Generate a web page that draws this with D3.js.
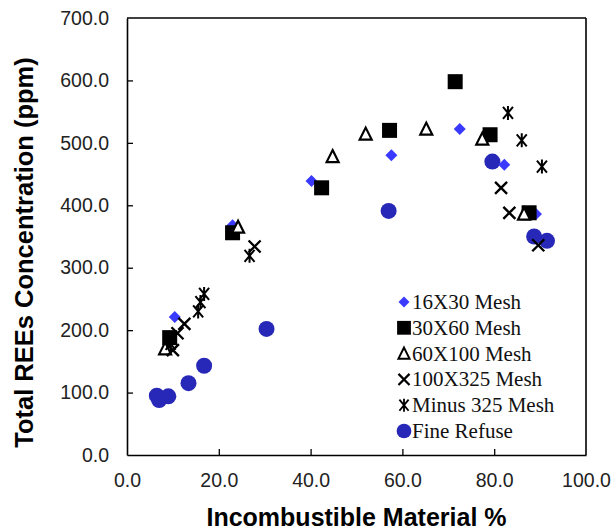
<!DOCTYPE html>
<html>
<head>
<meta charset="utf-8">
<script src="https://cdn.jsdelivr.net/npm/d3@7"></script>
<style>
  body { margin: 0; background: #fff; }
</style>
</head>
<body>
<div id="chart"></div>
<script>
// data: [incombustible %, REEs ppm]
const mesh16x30 = [[10.4, 221], [23.0, 368], [40.2, 439], [57.6, 480], [72.5, 522], [82.2, 465], [89.1, 386]];
const mesh30x60 = [[9.3, 188], [23.0, 356], [42.4, 428], [57.2, 520], [71.5, 598], [79.1, 513], [87.6, 388]];
const mesh60x100 = [[8.3, 170], [24.2, 365], [44.8, 478], [52.0, 514], [65.2, 522], [77.4, 506], [86.5, 386]];
const mesh100x325 = [[10.0, 168], [11.0, 195], [12.5, 210], [27.8, 334], [81.5, 428], [83.3, 388], [89.6, 336]];
const minus325 = [[9.5, 178], [15.5, 230], [16.0, 245], [16.8, 258], [26.7, 319], [83.0, 548], [86.0, 504], [90.4, 462]];
const fineRefuse = [[6.5, 95], [7.0, 88], [9.0, 94], [13.4, 115], [16.8, 143], [30.4, 202], [57.0, 391], [79.6, 470], [88.7, 350], [91.5, 343]];

const seriesNames = ["16X30 Mesh", "30X60 Mesh", "60X100 Mesh", "100X325 Mesh", "Minus 325 Mesh", "Fine Refuse"];
const xTicks = [0, 20, 40, 60, 80, 100];
const yTicks = [0, 100, 200, 300, 400, 500, 600, 700];

const W = 615, H = 531;
const margin = {top: 18, right: 29, bottom: 76, left: 127},
      width  = W - margin.left - margin.right,
      height = H - margin.top - margin.bottom;

const svg = d3.select("#chart")
  .append("svg")
    .attr("width", W)
    .attr("height", H);

const g = svg.append("g")
    .attr("transform", `translate(${margin.left},${margin.top})`);

const x = d3.scaleLinear().domain([0, 100]).range([0, width]);
const y = d3.scaleLinear().domain([0, 700]).range([height, 0]);

// axes, ticks inside
const xAxis = g.append("g")
  .attr("transform", `translate(0,${height})`)
  .call(d3.axisBottom(x).tickValues(xTicks).tickSizeInner(-6).tickSizeOuter(0).tickPadding(18).tickFormat(d3.format(".1f")));
const yAxis = g.append("g")
  .call(d3.axisLeft(y).tickValues(yTicks).tickSizeInner(-6).tickSizeOuter(0).tickPadding(18).tickFormat(d3.format(".1f")));

[xAxis, yAxis].forEach(a => {
  a.select(".domain").attr("stroke", "#000").attr("stroke-width", 1.6);
  a.selectAll(".tick line").attr("stroke", "#000").attr("stroke-width", 1.3);
  a.selectAll(".tick text")
    .style("font-family", "Liberation Sans, Arial, sans-serif")
    .style("font-size", "19.5px")
    .attr("fill", "#222");
});
// no tick marks on the frame corners
xAxis.selectAll(".tick").filter(d => d === 0 || d === 100).select("line").remove();
yAxis.selectAll(".tick").filter(d => d === 0 || d === 700).select("line").remove();

// top and right frame
g.append("line").attr("x1", 0).attr("x2", width).attr("y1", 0).attr("y2", 0)
  .attr("stroke", "#000").attr("stroke-width", 1.6);
g.append("line").attr("x1", width).attr("x2", width).attr("y1", 0).attr("y2", height)
  .attr("stroke", "#000").attr("stroke-width", 1.6);

// axis titles
svg.append("text")
  .attr("x", margin.left + width / 2)
  .attr("y", 526)
  .attr("text-anchor", "middle")
  .style("font-family", "Liberation Sans, Arial, sans-serif")
  .style("font-size", "25px")
  .style("font-weight", "bold")
  .text("Incombustible Material %");

svg.append("text")
  .attr("transform", `translate(33,${(52 + 453) / 2}) rotate(-90)`)
  .attr("text-anchor", "middle")
  .style("font-family", "Liberation Sans, Arial, sans-serif")
  .style("font-size", "25.5px")
  .style("font-weight", "bold")
  .text("Total REEs Concentration (ppm)");

// marker drawers
const blue = "#3a3aff", navy = "#2727b8";
const markers = {
  "16X30 Mesh": sel => sel.append("path")
      .attr("d", "M0,-6L6,0L0,6L-6,0Z")
      .attr("fill", blue),
  "30X60 Mesh": sel => sel.append("rect")
      .attr("x", -7.5).attr("y", -7.5).attr("width", 15).attr("height", 15)
      .attr("fill", "#000"),
  "60X100 Mesh": sel => sel.append("path")
      .attr("d", "M0,-6.5L6,5.5L-6,5.5Z")
      .attr("fill", "#fff").attr("stroke", "#000").attr("stroke-width", 2.2),
  "100X325 Mesh": sel => sel.append("path")
      .attr("d", "M-6,-6L6,6M-6,6L6,-6")
      .attr("fill", "none").attr("stroke", "#000").attr("stroke-width", 2.4),
  "Minus 325 Mesh": sel => sel.append("path")
      .attr("d", "M-5,-6L5,6M-5,6L5,-6M0,-7L0,7")
      .attr("fill", "none").attr("stroke", "#000").attr("stroke-width", 2),
  "Fine Refuse": sel => sel.append("circle")
      .attr("r", 8)
      .attr("fill", navy)
};

const seriesData = {
  "16X30 Mesh": mesh16x30,
  "30X60 Mesh": mesh30x60,
  "60X100 Mesh": mesh60x100,
  "100X325 Mesh": mesh100x325,
  "Minus 325 Mesh": minus325,
  "Fine Refuse": fineRefuse
};

// draw order: refuse at the back, then meshes
const drawOrder = ["Fine Refuse", "16X30 Mesh", "30X60 Mesh", "60X100 Mesh", "100X325 Mesh", "Minus 325 Mesh"];
drawOrder.forEach(name => {
  g.append("g").selectAll("g")
    .data(seriesData[name])
    .enter().append("g")
      .attr("transform", d => `translate(${x(d[0])},${y(d[1])})`)
      .each(function() { markers[name](d3.select(this)); });
});

// legend
const legend = svg.append("g")
  .attr("transform", "translate(404,302)");
seriesNames.forEach((name, i) => {
  const row = legend.append("g")
    .attr("transform", `translate(0, ${i * 25.8})`);
  const m = row.append("g").attr("transform", "scale(0.92)");
  markers[name](m);
  row.append("text")
    .attr("x", 8).attr("y", 7)
    .style("font-family", "Liberation Serif, Times New Roman, serif")
    .style("font-size", "21px")
    .attr("fill", "#111")
    .text(name);
});
</script>
</body>
</html>
